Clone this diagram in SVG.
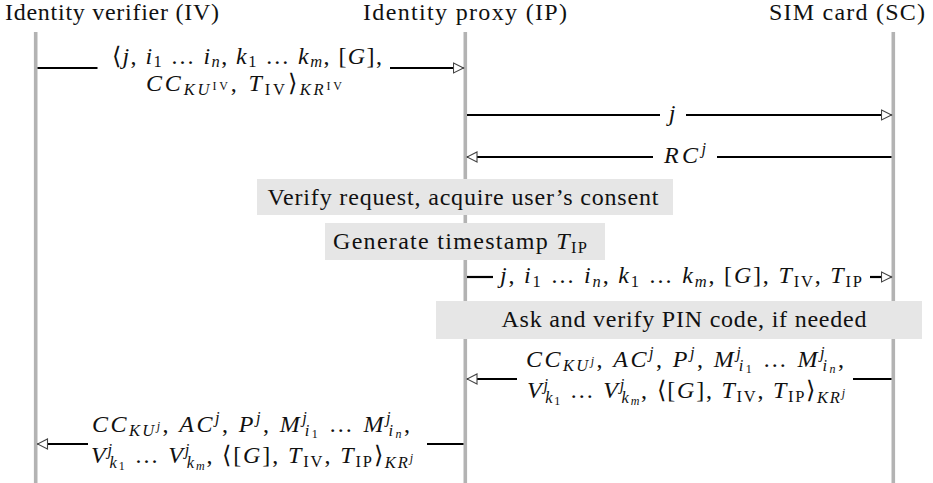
<svg xmlns="http://www.w3.org/2000/svg" width="933" height="483" viewBox="0 0 933 483">
  <defs>
    <style>
      .t { font-size: 24px; fill: #111; }
      .i { font-style: italic; }
      .s { font-size: 16.5px; }
      .ss { font-size: 12px; }
      .life { stroke: #b3b3b3; stroke-width: 3.6; fill: none; }
      .act { fill: #e6e6e6; stroke: none; }
      .msg { stroke: #000; stroke-width: 2.2; fill: none; }
    </style>
    <marker id="head" viewBox="0 0 12 12" refX="11" refY="6" markerWidth="12" markerHeight="12" markerUnits="userSpaceOnUse" orient="auto">
      <path d="M1,1 L11,6 L1,11 Z" fill="#fff" stroke="#444" stroke-width="1.1"/>
    </marker>
  </defs>
  <rect width="933" height="483" fill="#fff"/>

  <!-- participants: header label and lifeline -->
  <g id="iv">
    <line class="life" x1="35.7" y1="32" x2="35.7" y2="483"/>
    <text class="t" x="5" y="20" font-family="Liberation Serif" textLength="214">Identity verifier (IV)</text>
  </g>
  <g id="ip">
    <line class="life" x1="465.3" y1="32" x2="465.3" y2="483"/>
    <text class="t" x="465" y="20" text-anchor="middle" font-family="Liberation Serif" textLength="204">Identity proxy (IP)</text>
  </g>
  <g id="sc">
    <line class="life" x1="893.3" y1="32" x2="893.3" y2="483"/>
    <text class="t" x="925" y="20" text-anchor="end" font-family="Liberation Serif" textLength="156">SIM card (SC)</text>
  </g>

  <!-- local actions -->
  <g id="verify">
    <rect class="act" x="257" y="179" width="416" height="36"/>
    <text class="t" x="463" y="205" text-anchor="middle" font-family="Liberation Serif" textLength="391">Verify request, acquire user’s consent</text>
  </g>
  <g id="timestamp">
    <rect class="act" x="325" y="223" width="280" height="37"/>
    <text class="t" x="460" y="249" text-anchor="middle" font-family="Liberation Serif" textLength="254">Generate timestamp <tspan class="i">T</tspan><tspan class="s" dy="4">IP</tspan></text>
  </g>
  <g id="pin">
    <rect class="act" x="436" y="301" width="486" height="38"/>
    <text class="t" x="684" y="327" text-anchor="middle" font-family="Liberation Serif" textLength="365">Ask and verify PIN code, if needed</text>
  </g>

  <!-- messages -->
  <g id="connectors">
    <path class="msg" d="M37.5,68 H97.5"/>
    <path class="msg" d="M390,68 H463.5" marker-end="url(#head)"/>

    <path class="msg" d="M467,115 H660"/>
    <path class="msg" d="M686,115 H891.5" marker-end="url(#head)"/>

    <path class="msg" d="M891.5,157 H717"/>
    <path class="msg" d="M653,157 H467" marker-end="url(#head)"/>

    <path class="msg" d="M467,277 H493"/>
    <path class="msg" d="M870,277 H891.5" marker-end="url(#head)"/>

    <path class="msg" d="M891.5,379 H853"/>
    <path class="msg" d="M517,379 H467" marker-end="url(#head)"/>

    <path class="msg" d="M463.5,444 H427"/>
    <path class="msg" d="M88,444 H37.5" marker-end="url(#head)"/>
  </g>

  <!-- message labels -->
  <g id="labels" font-family="Liberation Serif">
    <text class="t" x="247" y="64" text-anchor="middle" textLength="270">⟨<tspan class="i">j</tspan>, <tspan class="i">i</tspan><tspan class="s" dy="3">1</tspan><tspan dy="-3"> … </tspan><tspan class="i">i</tspan><tspan class="s i" dy="3">n</tspan><tspan dy="-3">, </tspan><tspan class="i">k</tspan><tspan class="s" dy="3">1</tspan><tspan dy="-3"> … </tspan><tspan class="i">k</tspan><tspan class="s i" dy="3">m</tspan><tspan dy="-3">, [</tspan><tspan class="i">G</tspan>],</text>
    <text class="t" x="244" y="91" text-anchor="middle" textLength="196"><tspan class="i">CC</tspan><tspan class="s i" dy="4">KU</tspan><tspan class="ss" dy="-5">IV</tspan><tspan dy="1">, </tspan><tspan class="i">T</tspan><tspan class="s" dy="4">IV</tspan><tspan dy="-4">⟩</tspan><tspan class="s i" dy="4">KR</tspan><tspan class="ss" dy="-5">IV</tspan></text>

    <text class="t i" x="672" y="121" text-anchor="middle">j</text>
    <text class="t" x="685" y="163" text-anchor="middle" textLength="42"><tspan class="i">RC</tspan><tspan class="s i" dy="-9">j</tspan></text>

    <text class="t" x="681" y="283" text-anchor="middle" textLength="362"><tspan class="i">j</tspan>, <tspan class="i">i</tspan><tspan class="s" dy="4">1</tspan><tspan dy="-4"> … </tspan><tspan class="i">i</tspan><tspan class="s i" dy="4">n</tspan><tspan dy="-4">, </tspan><tspan class="i">k</tspan><tspan class="s" dy="4">1</tspan><tspan dy="-4"> … </tspan><tspan class="i">k</tspan><tspan class="s i" dy="4">m</tspan><tspan dy="-4">, [</tspan><tspan class="i">G</tspan>], <tspan class="i">T</tspan><tspan class="s" dy="4">IV</tspan><tspan dy="-4">, </tspan><tspan class="i">T</tspan><tspan class="s" dy="4">IP</tspan></text>

    <text class="t" x="685" y="367" text-anchor="middle" textLength="318"><tspan class="i">CC</tspan><tspan class="s i" dy="4">KU</tspan><tspan class="ss i" dy="-6">j</tspan><tspan dy="2">, </tspan><tspan class="i">AC</tspan><tspan class="s i" dy="-9">j</tspan><tspan dy="9">, </tspan><tspan class="i">P</tspan><tspan class="s i" dy="-9">j</tspan><tspan dy="9">, </tspan><tspan class="i">M</tspan><tspan class="s i" dy="-9">j</tspan><tspan class="s i" dx="-4.5" dy="13">i</tspan><tspan class="ss" dy="2">1</tspan><tspan dy="-6"> … </tspan><tspan class="i">M</tspan><tspan class="s i" dy="-9">j</tspan><tspan class="s i" dx="-4.5" dy="13">i</tspan><tspan class="ss i" dy="2">n</tspan><tspan dy="-6">,</tspan></text>
    <text class="t" x="686" y="398" text-anchor="middle" textLength="318"><tspan class="i">V</tspan><tspan class="s i" dy="-8">j</tspan><tspan class="s i" dx="-4.5" dy="13">k</tspan><tspan class="ss" dy="2">1</tspan><tspan dy="-7"> … </tspan><tspan class="i">V</tspan><tspan class="s i" dy="-8">j</tspan><tspan class="s i" dx="-4.5" dy="13">k</tspan><tspan class="ss i" dy="2">m</tspan><tspan dy="-7">, ⟨[</tspan><tspan class="i">G</tspan>], <tspan class="i">T</tspan><tspan class="s" dy="4">IV</tspan><tspan dy="-4">, </tspan><tspan class="i">T</tspan><tspan class="s" dy="4">IP</tspan><tspan dy="-4">⟩</tspan><tspan class="s i" dy="5">KR</tspan><tspan class="ss i" dy="-6">j</tspan></text>

    <text class="t" x="251" y="432" text-anchor="middle" textLength="318"><tspan class="i">CC</tspan><tspan class="s i" dy="4">KU</tspan><tspan class="ss i" dy="-6">j</tspan><tspan dy="2">, </tspan><tspan class="i">AC</tspan><tspan class="s i" dy="-9">j</tspan><tspan dy="9">, </tspan><tspan class="i">P</tspan><tspan class="s i" dy="-9">j</tspan><tspan dy="9">, </tspan><tspan class="i">M</tspan><tspan class="s i" dy="-9">j</tspan><tspan class="s i" dx="-4.5" dy="13">i</tspan><tspan class="ss" dy="2">1</tspan><tspan dy="-6"> … </tspan><tspan class="i">M</tspan><tspan class="s i" dy="-9">j</tspan><tspan class="s i" dx="-4.5" dy="13">i</tspan><tspan class="ss i" dy="2">n</tspan><tspan dy="-6">,</tspan></text>
    <text class="t" x="252" y="463" text-anchor="middle" textLength="322"><tspan class="i">V</tspan><tspan class="s i" dy="-8">j</tspan><tspan class="s i" dx="-4.5" dy="13">k</tspan><tspan class="ss" dy="2">1</tspan><tspan dy="-7"> … </tspan><tspan class="i">V</tspan><tspan class="s i" dy="-8">j</tspan><tspan class="s i" dx="-4.5" dy="13">k</tspan><tspan class="ss i" dy="2">m</tspan><tspan dy="-7">, ⟨[</tspan><tspan class="i">G</tspan>], <tspan class="i">T</tspan><tspan class="s" dy="4">IV</tspan><tspan dy="-4">, </tspan><tspan class="i">T</tspan><tspan class="s" dy="4">IP</tspan><tspan dy="-4">⟩</tspan><tspan class="s i" dy="5">KR</tspan><tspan class="ss i" dy="-6">j</tspan></text>
  </g>
</svg>
